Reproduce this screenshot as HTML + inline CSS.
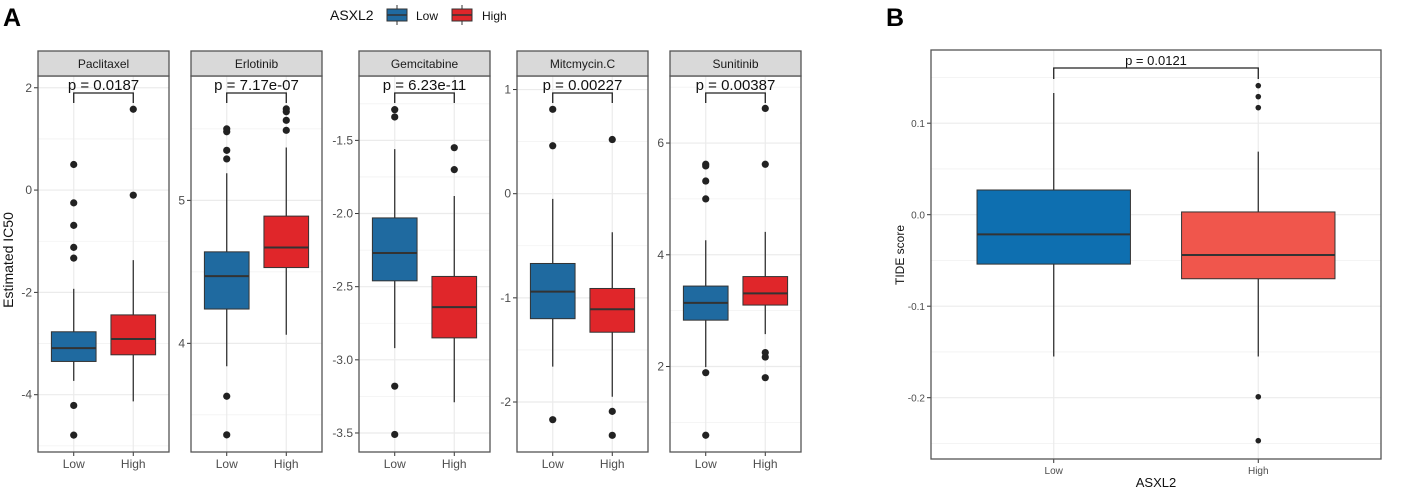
<!DOCTYPE html>
<html><head><meta charset="utf-8"><style>
html,body{margin:0;padding:0;background:#fff;}
svg{display:block;font-family:"Liberation Sans",Arial,sans-serif;}
</style></head><body>
<svg id="chart" width="1428" height="489" viewBox="0 0 1428 489" xmlns="http://www.w3.org/2000/svg">
<text x="3" y="26" font-size="25" font-weight="bold">A</text>
<text x="886" y="26" font-size="25" font-weight="bold">B</text>
<g>
<text x="330" y="20" font-size="14" fill="#111">ASXL2</text>
<g>
<line x1="397" y1="5" x2="397" y2="25" stroke="#333" stroke-width="1"/>
<rect x="387" y="9" width="20" height="12" fill="#1f6aa0" stroke="#333"/>
<line x1="387" y1="15" x2="407" y2="15" stroke="#333" stroke-width="1.5"/>
<text x="416" y="20" font-size="12" fill="#111">Low</text></g>
<g>
<line x1="462" y1="5" x2="462" y2="25" stroke="#333" stroke-width="1"/>
<rect x="452" y="9" width="20" height="12" fill="#e0262a" stroke="#333"/>
<line x1="452" y1="15" x2="472" y2="15" stroke="#333" stroke-width="1.5"/>
<text x="482" y="20" font-size="12" fill="#111">High</text></g>
</g>
<text transform="translate(13,260) rotate(-90)" text-anchor="middle" font-size="14" fill="#111">Estimated IC50</text>
<text transform="translate(904,255) rotate(-90)" text-anchor="middle" font-size="12" fill="#111">TIDE score</text>
<text x="1156" y="487" text-anchor="middle" font-size="13" fill="#111">ASXL2</text>
</svg>
<script>
const drugs = ["Paclitaxel","Erlotinib","Gemcitabine","Mitcmycin.C","Sunitinib"];
const pvalues = ["p = 0.0187","p = 7.17e-07","p = 6.23e-11","p = 0.00227","p = 0.00387"];
const groups = ["Low","High"];
// [whiskerLow, q1, median, q3, whiskerHigh]
const lowStats = [[-3.73,-3.35,-3.09,-2.77,-1.93],[3.84,4.24,4.47,4.64,5.19],[-2.92,-2.46,-2.27,-2.03,-1.56],[-1.66,-1.2,-0.94,-0.67,-0.05],[1.99,2.83,3.14,3.44,4.26]];
const highStats = [[-4.13,-3.22,-2.91,-2.44,-1.37],[4.06,4.53,4.67,4.89,5.37],[-3.29,-2.85,-2.64,-2.43,-1.88],[-1.95,-1.33,-1.11,-0.91,-0.37],[2.58,3.10,3.31,3.61,4.41]];
const lowOutliers = [[0.5,-0.25,-0.69,-1.12,-1.33,-4.21,-4.79],[5.5,5.48,5.35,5.29,3.63,3.36],[-1.29,-1.34,-3.18,-3.51],[0.81,0.46,-2.17],[5.62,5.59,5.32,5.0,1.89,0.77]];
const highOutliers = [[1.58,-0.1],[5.64,5.62,5.56,5.49],[-1.55,-1.70],[0.52,-2.09,-2.32],[6.62,5.62,2.25,2.17,1.80]];
const yDomains = [[-5.12,2.23],[3.24,5.87],[-3.63,-1.06],[-2.48,1.13],[0.47,7.2]];
const yTicks = [[-4,-2,0,2],[4,5],[-3.5,-3.0,-2.5,-2.0,-1.5],[-2,-1,0,1],[2,4,6]];
const yTickLabels = [["-4","-2","0","2"],["4","5"],["-3.5","-3.0","-2.5","-2.0","-1.5"],["-2","-1","0","1"],["2","4","6"]];

const tideGroups = ["Low","High"];
const tideLow = [-0.155,-0.054,-0.0215,0.027,0.133];
const tideHigh = [-0.155,-0.070,-0.044,0.003,0.069];
const tideLowOut = [];
const tideHighOut = [0.141,0.129,0.117,-0.199,-0.247];
const tideDomain = [-0.267,0.18];
const tideTicks = [-0.2,-0.1,0.0,0.1];
const tideTickLabels = ["-0.2","-0.1","0.0","0.1"];
const tideP = "p = 0.0121";

const NS="http://www.w3.org/2000/svg";
const svg=document.getElementById('chart');
function mk(tag,attrs,parent){const e=document.createElementNS(NS,tag);for(const k in attrs)e.setAttribute(k,attrs[k]);(parent||svg).appendChild(e);return e;}

function drawPanel(o){
  const g=mk('g',{});
  
  
  const y=v=>o.top+(o.dom[1]-v)/(o.dom[1]-o.dom[0])*(o.bottom-o.top);
  const x=i=>o.left+(o.right-o.left)*(0.6+i)/2.2;
  const bw=(o.right-o.left)/2.2*0.75;
  const step=o.ticks.length>1?o.ticks[1]-o.ticks[0]:1;
  const minors=[];
  for(let i=0;i<o.ticks.length-1;i++)minors.push((o.ticks[i]+o.ticks[i+1])/2);
  minors.push(o.ticks[0]-step/2,o.ticks[o.ticks.length-1]+step/2);
  minors.forEach(mv=>{if(mv>o.dom[0]&&mv<o.dom[1])mk('line',{x1:o.left,x2:o.right,y1:y(mv),y2:y(mv),stroke:'#f2f2f2','stroke-width':0.8},g);});
  o.ticks.forEach((t,i)=>{
    mk('line',{x1:o.left,x2:o.right,y1:y(t),y2:y(t),stroke:'#ebebeb','stroke-width':1.2},g);
    mk('line',{x1:o.left-4,x2:o.left,y1:y(t),y2:y(t),stroke:'#333','stroke-width':1},g);
    const tl=mk('text',{x:o.left-6,y:y(t)+4,'text-anchor':'end','font-size':o.fs,fill:'#4d4d4d'},g);
    
    
    tl.textContent=o.tickLabels[i];
  });
  [0,1].forEach(i=>mk('line',{x1:x(i),x2:x(i),y1:o.top,y2:o.bottom,stroke:'#ebebeb','stroke-width':1.2},g));
  const stats=[o.low,o.high], outs=[o.lowOut,o.highOut], cols=[o.cLow,o.cHigh];
  [0,1].forEach(i=>{
    const s=stats[i], cx=x(i);
    const bx=mk('g',{},g);
    
    
    mk('line',{x1:cx,x2:cx,y1:y(s[0]),y2:y(s[4]),stroke:'#333','stroke-width':1.3},bx);
    mk('rect',{x:cx-bw/2,y:y(s[3]),width:bw,height:y(s[1])-y(s[3]),fill:cols[i],stroke:'#333','stroke-width':1},bx);
    mk('line',{x1:cx-bw/2,x2:cx+bw/2,y1:y(s[2]),y2:y(s[2]),stroke:'#333','stroke-width':2},bx);
    outs[i].forEach(v=>{
      const c=mk('circle',{cx:cx,cy:y(v),r:o.r,fill:'#222'},bx);
      
      
    });
    mk('line',{x1:cx,x2:cx,y1:o.bottom,y2:o.bottom+4,stroke:'#333','stroke-width':1},g);
    const xl=mk('text',{x:cx,y:o.bottom+o.xlOff,'text-anchor':'middle','font-size':o.fs,fill:'#4d4d4d'},g);
    
    
    xl.textContent=o.groups[i];
  });
  const by=o.top+o.bOff;
  mk('path',{d:`M${x(0)},${by+o.bh} V${by} H${x(1)} V${by+o.bh}`,fill:'none',stroke:'#222','stroke-width':1.3},g);
  const pt=mk('text',{x:(x(0)+x(1))/2,y:by-3,'text-anchor':'middle','font-size':o.pfs,fill:'#111'},g);
  
  
  pt.textContent=o.p;
  mk('rect',{x:o.left,y:o.top,width:o.right-o.left,height:o.bottom-o.top,fill:'none',stroke:'#555','stroke-width':1.3},g);
  if(o.strip){
    const st=mk('g',{},g);
    
    
    mk('rect',{x:o.left,y:o.top-25,width:o.right-o.left,height:25,fill:'#d9d9d9',stroke:'#555','stroke-width':1.3},st);
    const t=mk('text',{x:(o.left+o.right)/2,y:o.top-8,'text-anchor':'middle','font-size':12,fill:'#1a1a1a'},st);
    t.textContent=o.strip;
  }
}
const lefts=[38,191,359,517,670];
drugs.forEach((d,k)=>{
  drawPanel({name:'panel-'+d.toLowerCase().replace('.','-'),left:lefts[k],right:lefts[k]+131,top:76,bottom:452,
    dom:yDomains[k],ticks:yTicks[k],tickLabels:yTickLabels[k],groups:groups,
    low:lowStats[k],high:highStats[k],lowOut:lowOutliers[k],highOut:highOutliers[k],
    cLow:'#1f6aa0',cHigh:'#e0262a',r:3.6,fs:12,xlOff:16,bOff:17,bh:10,p:pvalues[k],pfs:15,strip:d});
});
drawPanel({name:'panel-tide',left:931,right:1381,top:50,bottom:459,dom:tideDomain,ticks:tideTicks,tickLabels:tideTickLabels,
  groups:tideGroups,low:tideLow,high:tideHigh,lowOut:tideLowOut,highOut:tideHighOut,cLow:'#0e6fb0',cHigh:'#f0564c',
  r:2.8,fs:10,xlOff:15,bOff:18,bh:11,p:tideP,pfs:13,strip:null});
</script>
</body></html>
